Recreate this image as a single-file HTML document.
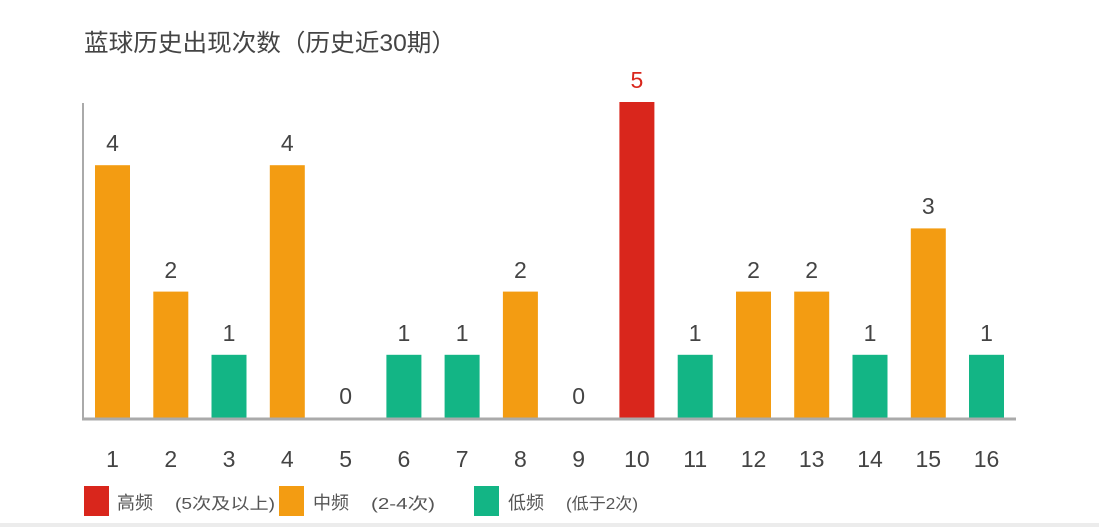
<!DOCTYPE html>
<html><head><meta charset="utf-8"><style>
html,body{margin:0;padding:0;background:#fff;}
svg{display:block;}
text{font-family:"Liberation Sans Narrow","Liberation Sans","Noto Sans CJK SC",sans-serif;}
.c{font-family:"Liberation Sans","Noto Sans CJK SC",sans-serif;}
</style></head><body>
<svg width="1099" height="527" viewBox="0 0 1099 527" xmlns="http://www.w3.org/2000/svg">
<rect x="0" y="0" width="1099" height="527" fill="#fff"/>
<rect x="0" y="523" width="1099" height="4" fill="#ececec"/>
<text class="c" x="84" y="51" font-size="24" fill="#444" textLength="372" lengthAdjust="spacingAndGlyphs">蓝球历史出现次数（历史近30期）</text>
<line x1="83" y1="103" x2="83" y2="420" stroke="#aaa" stroke-width="2"/>
<rect x="95" y="165.2" width="35" height="252.8" fill="#f39c12"/>
<rect x="153.3" y="291.6" width="35" height="126.4" fill="#f39c12"/>
<rect x="211.5" y="354.8" width="35" height="63.2" fill="#13b585"/>
<rect x="269.8" y="165.2" width="35" height="252.8" fill="#f39c12"/>
<rect x="386.4" y="354.8" width="35" height="63.2" fill="#13b585"/>
<rect x="444.6" y="354.8" width="35" height="63.2" fill="#13b585"/>
<rect x="502.9" y="291.6" width="35" height="126.4" fill="#f39c12"/>
<rect x="619.4" y="102" width="35" height="316" fill="#d9261c"/>
<rect x="677.7" y="354.8" width="35" height="63.2" fill="#13b585"/>
<rect x="736" y="291.6" width="35" height="126.4" fill="#f39c12"/>
<rect x="794.2" y="291.6" width="35" height="126.4" fill="#f39c12"/>
<rect x="852.5" y="354.8" width="35" height="63.2" fill="#13b585"/>
<rect x="910.8" y="228.4" width="35" height="189.6" fill="#f39c12"/>
<rect x="969" y="354.8" width="35" height="63.2" fill="#13b585"/>
<line x1="82" y1="419" x2="1016" y2="419" stroke="#aaa" stroke-width="3"/>
<g font-size="23" text-anchor="middle" fill="#444">
<text x="112.5" y="151">4</text>
<text x="170.8" y="278">2</text>
<text x="229" y="341">1</text>
<text x="287.3" y="151">4</text>
<text x="345.6" y="404">0</text>
<text x="403.9" y="341">1</text>
<text x="462.1" y="341">1</text>
<text x="520.4" y="278">2</text>
<text x="578.7" y="404">0</text>
<text x="636.9" y="88" fill="#d9261c">5</text>
<text x="695.2" y="341">1</text>
<text x="753.5" y="278">2</text>
<text x="811.7" y="278">2</text>
<text x="870" y="341">1</text>
<text x="928.3" y="214">3</text>
<text x="986.5" y="341">1</text>
</g>
<g font-size="23" text-anchor="middle" fill="#444">
<text x="112.5" y="467">1</text>
<text x="170.8" y="467">2</text>
<text x="229" y="467">3</text>
<text x="287.3" y="467">4</text>
<text x="345.6" y="467">5</text>
<text x="403.9" y="467">6</text>
<text x="462.1" y="467">7</text>
<text x="520.4" y="467">8</text>
<text x="578.7" y="467">9</text>
<text x="636.9" y="467">10</text>
<text x="695.2" y="467">11</text>
<text x="753.5" y="467">12</text>
<text x="811.7" y="467">13</text>
<text x="870" y="467">14</text>
<text x="928.3" y="467">15</text>
<text x="986.5" y="467">16</text>
</g>
<rect x="84" y="486" width="25" height="30" fill="#d9261c"/>
<text class="c" x="117" y="509" font-size="18" fill="#555">高频</text>
<text class="c" x="175" y="509" font-size="16" fill="#555" textLength="100" lengthAdjust="spacingAndGlyphs">(5次及以上)</text>
<rect x="279" y="486" width="25" height="30" fill="#f39c12"/>
<text class="c" x="313" y="509" font-size="18" fill="#555">中频</text>
<text class="c" x="371" y="509" font-size="16" fill="#555" textLength="64" lengthAdjust="spacingAndGlyphs">(2-4次)</text>
<rect x="474" y="486" width="25" height="30" fill="#13b585"/>
<text class="c" x="508" y="509" font-size="18" fill="#555">低频</text>
<text class="c" x="566" y="509" font-size="16" fill="#555" textLength="72" lengthAdjust="spacingAndGlyphs">(低于2次)</text>
</svg>
</body></html>
